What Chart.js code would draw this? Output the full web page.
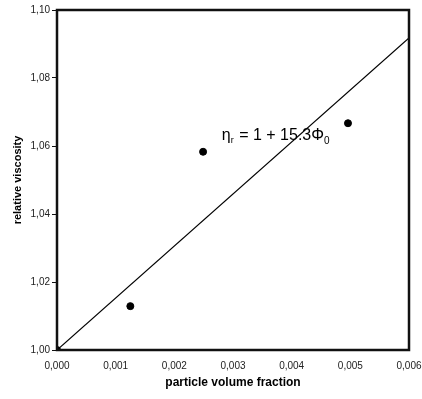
<!DOCTYPE html>
<html>
<head>
<meta charset="utf-8">
<script src="https://cdn.jsdelivr.net/npm/chart.js@4"></script>
<style>
html,body{margin:0;padding:0;background:#fff;}
#wrap{width:422px;height:399px;}
</style>
</head>
<body>
<div id="wrap"><canvas id="c" width="422" height="399"></canvas></div>
<script>
// measured points
const phi = [0, 0.00125, 0.00249, 0.00496];
const eta = [1.0, 1.0129, 1.0583, 1.0667];
// fitted line eta = 1 + 15.3*phi
const fitX = [0, 0.006];
const fitY = [1, 1.0918];
const xTicks = [0, 0.001, 0.002, 0.003, 0.004, 0.005, 0.006];
const yTicks = [1.00, 1.02, 1.04, 1.06, 1.08, 1.10];

const fnt = "'Liberation Sans', Arial, sans-serif";

const frame = {
  id: 'frame',
  afterDraw(chart) {
    const a = chart.chartArea, ctx = chart.ctx;
    ctx.save();
    ctx.strokeStyle = '#111';
    ctx.lineWidth = 2.5;
    ctx.strokeRect(a.left, a.top, a.right - a.left, a.bottom - a.top);
    // equation label
    const x = chart.scales.x.getPixelForValue(0.00281);
    const y = chart.scales.y.getPixelForValue(1.0618);
    ctx.fillStyle = '#000';
    ctx.textBaseline = 'alphabetic';
    ctx.font = '16px ' + fnt;
    let cx = x;
    ctx.fillText('η', cx, y); cx += ctx.measureText('η').width;
    ctx.font = '9px ' + fnt;
    ctx.fillText('r', cx, y + 3); cx += ctx.measureText('r').width + 1;
    ctx.font = '16px ' + fnt;
    const s = ' = 1 + 15.3Φ';
    ctx.fillText(s, cx, y); cx += ctx.measureText(s).width;
    ctx.font = '10px ' + fnt;
    ctx.fillText('0', cx, y + 4);
    ctx.restore();
  }
};

new Chart(document.getElementById('c'), {
  type: 'scatter',
  data: {
    datasets: [{
      data: phi.map((v, i) => ({x: v, y: eta[i]})),
      backgroundColor: '#000',
      borderColor: '#000',
      pointRadius: 3.5,
      order: 1
    }, {
      type: 'line',
      data: fitX.map((v, i) => ({x: v, y: fitY[i]})),
      borderColor: '#000',
      borderWidth: 1.2,
      pointRadius: 0,
      fill: false,
      order: 2
    }]
  },
  options: {
    responsive: false,
    animation: false,
    layout: {padding: {left: 0, right: 0, top: 10, bottom: 0}},
    plugins: {legend: {display: false}, tooltip: {enabled: false}},
    scales: {
      x: {
        type: 'linear', min: 0, max: 0.006,
        afterBuildTicks: s => { s.ticks = xTicks.map(v => ({value: v})); },
        afterFit: s => { s.height = 49; s.paddingRight = 13; },
        grid: {display: true, drawOnChartArea: false, drawTicks: false, color: '#111'},
        border: {display: false},
        ticks: {
          color: '#222', padding: 10,
          font: {family: fnt, size: 10},
          callback: v => v.toFixed(3).replace('.', ',')
        },
        title: {display: true, text: 'particle volume fraction', color: '#000',
          font: {family: fnt, size: 12, weight: 'bold'}, padding: {top: 0, bottom: 9}}
      },
      y: {
        type: 'linear', min: 1.0, max: 1.10,
        afterBuildTicks: s => { s.ticks = yTicks.map(v => ({value: v})); },
        afterFit: s => { s.width = 57; },
        grid: {display: true, drawOnChartArea: false, drawTicks: true, tickLength: 5, color: '#111'},
        border: {display: false},
        ticks: {
          color: '#222', padding: 2,
          font: {family: fnt, size: 10},
          callback: v => v.toFixed(2).replace('.', ',')
        },
        title: {display: true, text: 'relative viscosity', color: '#000',
          font: {family: fnt, size: 11, weight: 'bold'}, padding: {top: 11, bottom: 0}}
      }
    }
  },
  plugins: [frame]
});
</script>
</body>
</html>
